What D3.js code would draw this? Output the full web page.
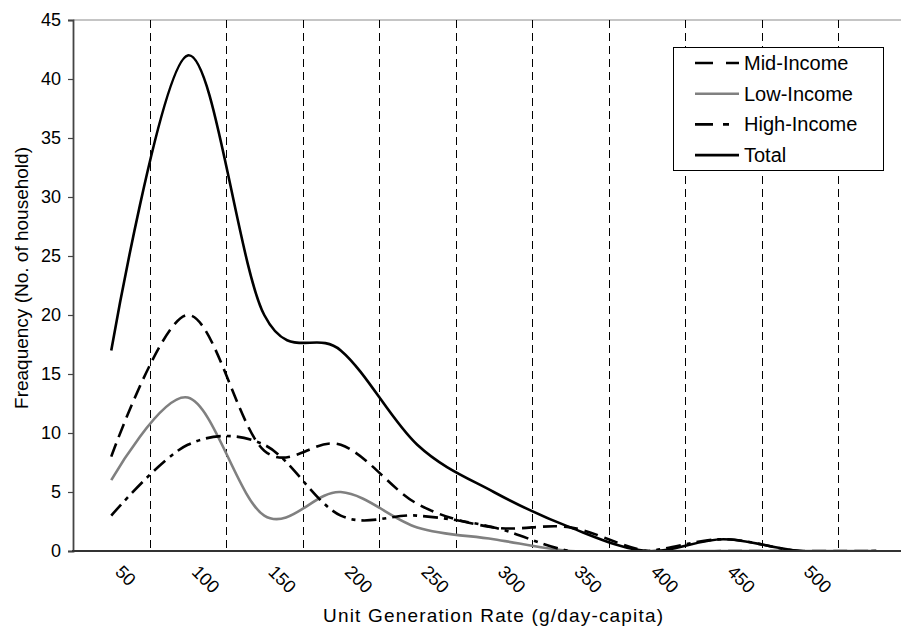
<!DOCTYPE html>
<html>
<head>
<meta charset="utf-8">
<script src="https://cdn.jsdelivr.net/npm/d3@7"></script>
<style>
  body { margin: 0; background: #fff; }
  svg { display: block; font-family: "Liberation Sans", Arial, sans-serif; }
  .tick text { fill: #000; }
</style>
</head>
<body>
<div id="chart"></div>
<script>
  // category labels along the x axis (last bin has no label)
  const categories = ["50", "100", "150", "200", "250", "300", "350", "400", "450", "500", ""];
  const midIncome  = [8, 20, 8.5, 9, 4, 2, 2, 0, 0, 0, 0];
  const lowIncome  = [6, 13, 3, 5, 2, 1, 0, 0, 0, 0, 0];
  const highIncome = [3, 9, 9, 3, 3, 2, 0, 0, 1, 0, 0];
  const total      = [17, 42, 20, 17, 9, 5, 2, 0, 1, 0, 0];
  const yTicks = [0, 5, 10, 15, 20, 25, 30, 35, 40, 45];

  const series = [
      { name: "Mid-Income", values: midIncome, color: "#000", dash: "14,7", key: "18,13" },
      { name: "Low-Income", values: lowIncome, color: "#808080", dash: null, key: null },
      { name: "High-Income", values: highIncome, color: "#000", dash: "15,6,4,6", key: "18,10,6,10" },
      { name: "Total", values: total, color: "#000", dash: null, key: null }
  ];

  const W = 901, H = 627;
  const margin = { top: 20, left: 73 };
  const band = 76.5;
  const width = band * categories.length;
  const height = 531;

  const svg = d3.select("#chart")
      .append("svg")
      .attr("width", W)
      .attr("height", H);

  const g = svg.append("g")
      .attr("transform", `translate(${margin.left},${margin.top})`);

  const x = d3.scaleBand()
      .domain(categories.map((d, i) => i))
      .range([0, width])
      .padding(0);

  const y = d3.scaleLinear()
      .domain([0, 45])
      .range([height, 0]);

  g.append("clipPath")
      .attr("id", "plot-clip")
      .append("rect")
      .attr("x", 0).attr("y", 0)
      .attr("width", width).attr("height", height);

  // top border of the plot area
  g.append("line")
      .attr("x1", 0).attr("x2", width)
      .attr("y1", 0).attr("y2", 0)
      .attr("stroke", "#8c8c8c")
      .attr("stroke-width", 1.2);

  // dashed vertical gridlines on the category boundaries
  g.append("g")
      .selectAll("line")
      .data(categories.slice(1).map((d, i) => i + 1))
      .join("line")
      .attr("x1", d => Math.round(x(d)) + 0.5)
      .attr("x2", d => Math.round(x(d)) + 0.5)
      .attr("y1", 0)
      .attr("y2", height)
      .attr("stroke", "#000")
      .attr("stroke-width", 1)
      .attr("stroke-dasharray", "8,5");

  const line = d3.line()
      .x((d, i) => x(i) + x.bandwidth() / 2)
      .y(d => y(d))
      .curve(d3.curveCardinal.tension(0));

  g.append("g")
      .attr("clip-path", "url(#plot-clip)")
      .selectAll("path")
      .data(series)
      .join("path")
      .attr("d", d => line(d.values))
      .attr("fill", "none")
      .attr("stroke", d => d.color)
      .attr("stroke-width", 2.6)
      .attr("stroke-dasharray", d => d.dash);

  // y axis
  const yAxis = d3.axisLeft(y)
      .tickValues(yTicks)
      .tickSize(5)
      .tickPadding(7);

  const yg = g.append("g")
      .attr("class", "y-axis")
      .call(yAxis);
  yg.select(".domain").attr("stroke", "#444").attr("stroke-width", 1.8);
  yg.selectAll(".tick line").attr("stroke", "#444").attr("stroke-width", 1.2);
  yg.selectAll(".tick text").attr("font-size", 18);

  // x axis line
  g.append("line")
      .attr("x1", -1).attr("x2", width)
      .attr("y1", height).attr("y2", height)
      .attr("stroke", "#333")
      .attr("stroke-width", 1.8);

  // rotated category labels
  g.append("g")
      .selectAll("text")
      .data(categories)
      .join("text")
      .attr("transform", (d, i) => `translate(${x(i) + x.bandwidth() / 2 + 3},${height + 22}) rotate(45)`)
      .attr("font-size", 18)
      .attr("fill", "#000")
      .text(d => d);

  // axis titles
  svg.append("text")
      .attr("x", 493)
      .attr("y", 622)
      .attr("text-anchor", "middle")
      .attr("font-size", 19)
      .attr("textLength", 340)
      .attr("lengthAdjust", "spacing")
      .text("Unit Generation Rate (g/day-capita)");

  svg.append("text")
      .attr("transform", "translate(28,278) rotate(-90)")
      .attr("text-anchor", "middle")
      .attr("font-size", 19)
      .text("Freaquency (No. of household)");

  // legend
  const legend = svg.append("g")
      .attr("transform", "translate(673,47)");

  legend.append("rect")
      .attr("x", 0.5).attr("y", 0.5)
      .attr("width", 210).attr("height", 123)
      .attr("fill", "#fff")
      .attr("stroke", "#000")
      .attr("stroke-width", 1);

  const item = legend.selectAll("g.item")
      .data(series)
      .join("g")
      .attr("class", "item")
      .attr("transform", (d, i) => `translate(0,${16 + i * 30.7})`);

  item.append("line")
      .attr("x1", 22).attr("x2", 66)
      .attr("y1", 0).attr("y2", 0)
      .attr("stroke", d => d.color)
      .attr("stroke-width", 2.6)
      .attr("stroke-dasharray", d => d.key);

  item.append("text")
      .attr("x", 71)
      .attr("y", 7)
      .attr("font-size", 20)
      .attr("fill", "#000")
      .text(d => d.name);
</script>
</body>
</html>
